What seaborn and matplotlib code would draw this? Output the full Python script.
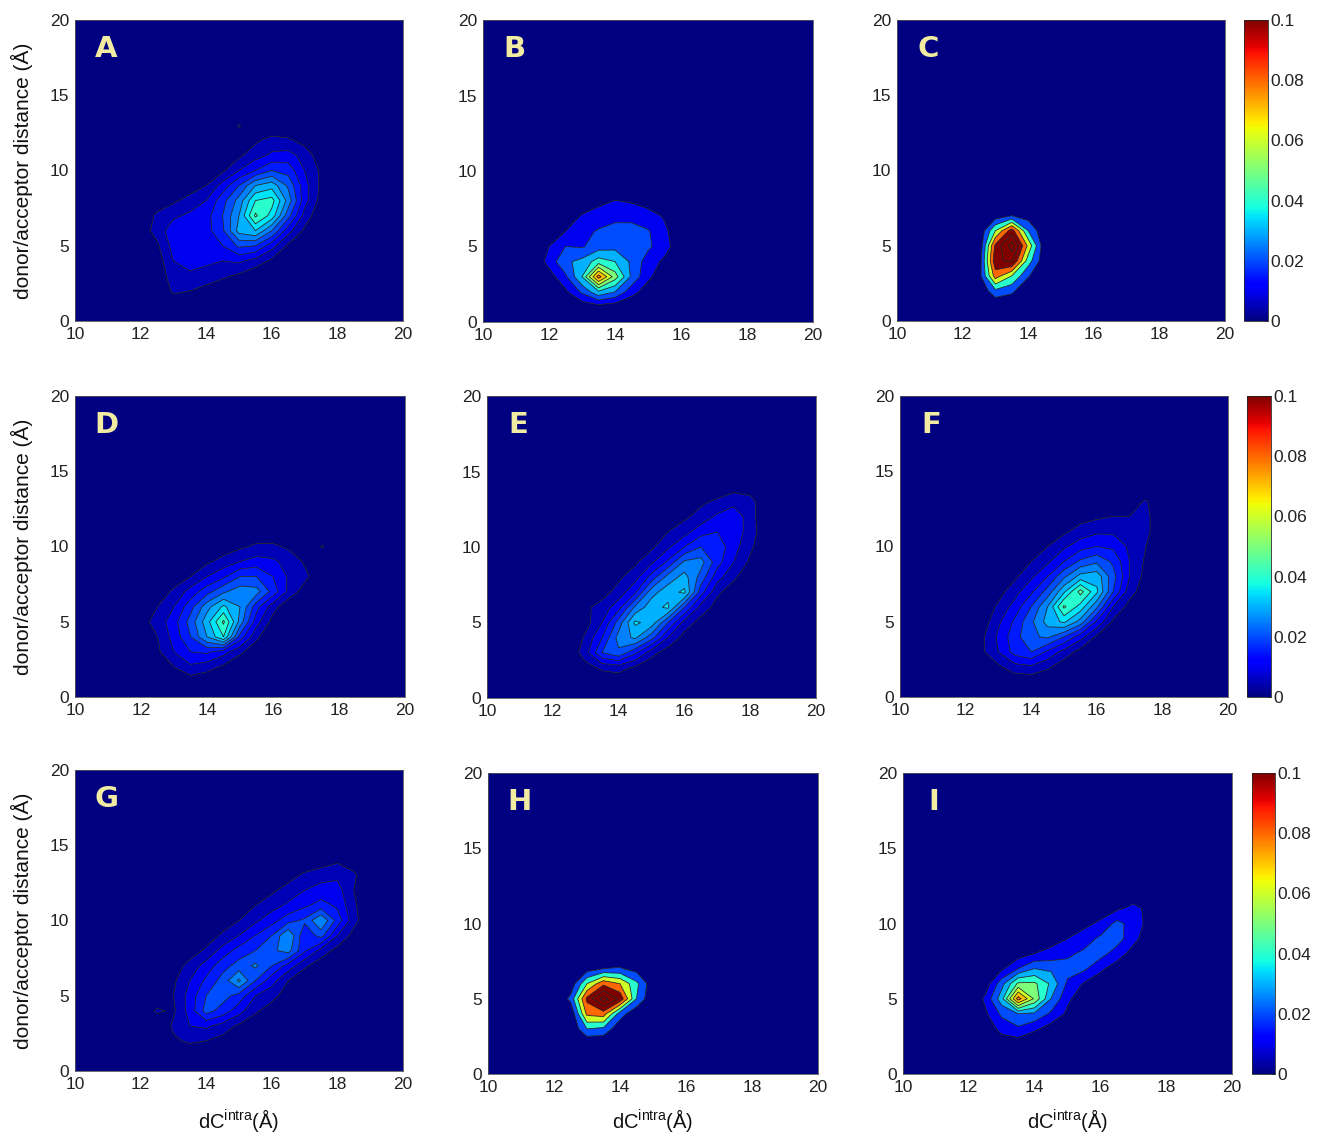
import numpy as np
import matplotlib
matplotlib.use("Agg")
import matplotlib.pyplot as plt
from matplotlib.colors import Normalize
from matplotlib.cm import ScalarMappable
import seaborn as sns

sns.set_theme(style="white")
plt.rcParams['font.family'] = ['Liberation Sans', 'DejaVu Sans']
plt.rcParams['mathtext.fontset'] = 'custom'
plt.rcParams['mathtext.rm'] = 'Liberation Sans'
plt.rcParams['mathtext.it'] = 'Liberation Sans:italic'

# ---------------- data (probability density, in units of 0.001) ----------------
# grid columns: dC_intra (Å); rows: donor/acceptor distance (Å), listed from y=1 up to y=14
X_COLS = [12.0, 12.5, 13.0, 13.5, 14.0, 14.5, 15.0, 15.5, 16.0, 16.5, 17.0, 17.5, 18.0, 18.5, 19.0]
Y_ROWS = [1, 2, 3, 4, 5, 6, 7, 8, 9, 10, 11, 12, 13, 14]

A_DENS = [
    [0, 0, 1, 1, 0, 0, 0, 0, 0, 0, 0, 0, 0, 0, 0],
    [0, 0, 6, 5, 3, 1, 0, 0, 0, 0, 0, 0, 0, 0, 0],
    [0, 1, 8, 9, 8, 6, 4, 1, 0, 0, 0, 0, 0, 0, 0],
    [0, 2, 10, 12, 11, 10, 11, 8, 4, 1, 0, 0, 0, 0, 0],
    [0, 4, 12, 13, 12, 15, 21, 20, 12, 4, 0, 0, 0, 0, 0],
    [2, 7, 13, 14, 13, 19, 32, 35, 25, 12, 4, 0, 0, 0, 0],
    [1, 6, 9, 11, 13, 20, 30, 46, 38, 22, 8, 1, 0, 0, 0],
    [0, 2, 4, 7, 10, 18, 27, 40, 42, 28, 12, 3, 0, 0, 0],
    [0, 0, 1, 2, 5, 12, 20, 30, 33, 24, 12, 4, 0, 0, 0],
    [0, 0, 0, 1, 2, 4, 10, 15, 20, 18, 10, 4, 0, 0, 0],
    [0, 0, 0, 0, 1, 3, 4, 8, 11, 12, 8, 2, 0, 0, 0],
    [0, 0, 0, 0, 0, 1, 2, 4, 7, 6, 3, 0, 0, 0, 0],
    [0, 0, 0, 0, 0, 0, 5.5, 1, 0, 0, 0, 0, 0, 0, 0],
    [0, 0, 0, 0, 0, 0, 0, 0, 0, 0, 0, 0, 0, 0, 0],
]
B_DENS = [
    [0, 0, 3, 5, 3, 1, 0, 0, 0, 0, 0, 0, 0, 0, 0],
    [2, 8, 22, 38, 30, 14, 5, 1, 0, 0, 0, 0, 0, 0, 0],
    [5, 18, 40, 85, 55, 28, 12, 4, 0, 0, 0, 0, 0, 0, 0],
    [14, 28, 33, 45, 40, 28, 15, 8, 2, 0, 0, 0, 0, 0, 0],
    [10, 20, 19, 25, 27, 26, 22, 14, 3, 0, 0, 0, 0, 0, 0],
    [4, 10, 17, 21, 24, 24, 21, 12, 3, 0, 0, 0, 0, 0, 0],
    [0, 4, 11, 15, 17, 17, 14, 9, 2, 0, 0, 0, 0, 0, 0],
    [0, 0, 3, 7, 10.5, 9, 6, 3, 0, 0, 0, 0, 0, 0, 0],
    [0, 0, 0, 1, 2, 2, 1, 0, 0, 0, 0, 0, 0, 0, 0],
    [0, 0, 0, 0, 0, 0, 0, 0, 0, 0, 0, 0, 0, 0, 0],
    [0, 0, 0, 0, 0, 0, 0, 0, 0, 0, 0, 0, 0, 0, 0],
    [0, 0, 0, 0, 0, 0, 0, 0, 0, 0, 0, 0, 0, 0, 0],
    [0, 0, 0, 0, 0, 0, 0, 0, 0, 0, 0, 0, 0, 0, 0],
    [0, 0, 0, 0, 0, 0, 0, 0, 0, 0, 0, 0, 0, 0, 0],
]
C_DENS = [
    [0, 0, 0, 0, 0, 0, 0, 0, 0, 0, 0, 0, 0, 0, 0],
    [0, 0, 35, 25, 0, 0, 0, 0, 0, 0, 0, 0, 0, 0, 0],
    [0, 10, 90, 60, 22, 0, 0, 0, 0, 0, 0, 0, 0, 0, 0],
    [0, 5, 115, 125, 50, 5, 0, 0, 0, 0, 0, 0, 0, 0, 0],
    [0, 0, 105, 150, 75, 5, 0, 0, 0, 0, 0, 0, 0, 0, 0],
    [0, 0, 60, 110, 40, 2, 0, 0, 0, 0, 0, 0, 0, 0, 0],
    [0, 0, 8, 20, 10, 0, 0, 0, 0, 0, 0, 0, 0, 0, 0],
    [0, 0, 0, 0, 0, 0, 0, 0, 0, 0, 0, 0, 0, 0, 0],
    [0, 0, 0, 0, 0, 0, 0, 0, 0, 0, 0, 0, 0, 0, 0],
    [0, 0, 0, 0, 0, 0, 0, 0, 0, 0, 0, 0, 0, 0, 0],
    [0, 0, 0, 0, 0, 0, 0, 0, 0, 0, 0, 0, 0, 0, 0],
    [0, 0, 0, 0, 0, 0, 0, 0, 0, 0, 0, 0, 0, 0, 0],
    [0, 0, 0, 0, 0, 0, 0, 0, 0, 0, 0, 0, 0, 0, 0],
    [0, 0, 0, 0, 0, 0, 0, 0, 0, 0, 0, 0, 0, 0, 0],
]
D_DENS = [
    [0, 0, 0, 2, 1, 0, 0, 0, 0, 0, 0, 0, 0, 0, 0],
    [0, 2, 5, 9, 7, 4, 1, 0, 0, 0, 0, 0, 0, 0, 0],
    [0, 4, 10, 15, 16, 12, 6, 2, 0, 0, 0, 0, 0, 0, 0],
    [1, 5, 12, 20, 30, 40, 18, 6, 1, 0, 0, 0, 0, 0, 0],
    [3, 7, 13, 22, 33, 46, 28, 12, 3, 0, 0, 0, 0, 0, 0],
    [1, 5, 10, 18, 28, 36, 30, 17, 7, 1, 0, 0, 0, 0, 0],
    [0, 2, 6, 12, 18, 24, 28, 27, 18, 8, 2, 0, 0, 0, 0],
    [0, 0, 2, 5, 10, 14, 20, 20, 15, 9, 6, 1, 0, 0, 0],
    [0, 0, 0, 2, 4, 7, 10, 12, 11, 8, 4, 0, 0, 0, 0],
    [0, 0, 0, 0, 1, 2, 4, 6, 6, 4, 1, 5.5, 0, 0, 0],
    [0, 0, 0, 0, 0, 0, 0, 1, 1, 1, 0, 0, 0, 0, 0],
    [0, 0, 0, 0, 0, 0, 0, 0, 0, 0, 0, 0, 0, 0, 0],
    [0, 0, 0, 0, 0, 0, 0, 0, 0, 0, 0, 0, 0, 0, 0],
    [0, 0, 0, 0, 0, 0, 0, 0, 0, 0, 0, 0, 0, 0, 0],
]
E_DENS = [
    [0, 0, 0, 1, 1, 0, 0, 0, 0, 0, 0, 0, 0, 0, 0],
    [0, 0, 3, 6, 7, 4, 1, 0, 0, 0, 0, 0, 0, 0, 0],
    [0, 1, 8, 20, 24, 16, 7, 2, 0, 0, 0, 0, 0, 0, 0],
    [0, 0, 6, 15, 27, 31, 22, 10, 3, 1, 0, 0, 0, 0, 0],
    [0, 0, 3, 10, 22, 36, 33, 20, 8, 3, 1, 0, 0, 0, 0],
    [0, 0, 4, 7, 13, 26, 33, 36, 20, 8, 3, 0, 0, 0, 0],
    [0, 0, 0, 3, 7, 14, 28, 33, 36, 17, 6, 2, 0, 0, 0],
    [0, 0, 0, 0, 4, 8, 17, 27, 32, 23, 12, 6, 1, 0, 0],
    [0, 0, 0, 0, 1, 4, 9, 16, 26, 27, 17, 10, 4, 0, 0],
    [0, 0, 0, 0, 0, 1, 4, 9, 15, 20, 18, 12, 6, 1, 0],
    [0, 0, 0, 0, 0, 0, 2, 5, 8, 13, 15, 14, 7, 2, 0],
    [0, 0, 0, 0, 0, 0, 0, 2, 4, 7, 11, 14, 7, 1, 0],
    [0, 0, 0, 0, 0, 0, 0, 0, 1, 4, 6, 8, 7, 1, 0],
    [0, 0, 0, 0, 0, 0, 0, 0, 0, 0, 1, 3, 2, 0, 0],
]
F_DENS = [
    [0, 0, 0, 1, 1, 0, 0, 0, 0, 0, 0, 0, 0, 0, 0],
    [0, 1, 4, 8, 9, 6, 2, 0, 0, 0, 0, 0, 0, 0, 0],
    [0, 4, 10, 17, 20, 14, 8, 3, 0, 0, 0, 0, 0, 0, 0],
    [0, 4, 11, 18, 24, 26, 20, 12, 4, 1, 0, 0, 0, 0, 0],
    [0, 2, 9, 16, 24, 32, 36, 28, 14, 4, 1, 0, 0, 0, 0],
    [0, 1, 6, 12, 20, 30, 46, 38, 26, 10, 3, 0, 0, 0, 0],
    [0, 0, 3, 8, 14, 22, 34, 47, 36, 20, 7, 2, 0, 0, 0],
    [0, 0, 1, 4, 9, 15, 24, 32, 33, 22, 10, 3, 0, 0, 0],
    [0, 0, 0, 2, 5, 9, 15, 21, 24, 19, 10, 4, 0, 0, 0],
    [0, 0, 0, 0, 2, 5, 9, 13, 15, 14, 9, 5, 1, 0, 0],
    [0, 0, 0, 0, 0, 2, 4, 7, 9, 9, 7, 6, 2, 0, 0],
    [0, 0, 0, 0, 0, 0, 1, 3, 4, 5, 5, 6, 2, 0, 0],
    [0, 0, 0, 0, 0, 0, 0, 0, 1, 1, 3, 5.5, 1, 0, 0],
    [0, 0, 0, 0, 0, 0, 0, 0, 0, 0, 0, 0, 0, 0, 0],
]
G_DENS = [
    [0, 0, 0, 0, 0, 0, 0, 0, 0, 0, 0, 0, 0, 0, 0],
    [0, 0, 4, 6, 5, 3, 1, 0, 0, 0, 0, 0, 0, 0, 0],
    [0, 0, 6, 10, 11, 8, 4, 1, 0, 0, 0, 0, 0, 0, 0],
    [0, 6, 4, 12, 22, 18, 12, 6, 2, 0, 0, 0, 0, 0, 0],
    [0, 0, 5, 12, 20, 22, 18, 10, 7, 2, 0, 0, 0, 0, 0],
    [0, 0, 4, 10, 16, 22, 31, 20, 12, 5, 1, 0, 0, 0, 0],
    [0, 0, 2, 7, 12, 18, 22, 26, 20, 13, 6, 2, 0, 0, 0],
    [0, 0, 0, 2, 6, 12, 17, 20, 24, 27, 16, 8, 3, 0, 0],
    [0, 0, 0, 0, 2, 6, 10, 15, 20, 30, 16, 22, 10, 3, 0],
    [0, 0, 0, 0, 0, 2, 5, 9, 13, 18, 21, 30, 18, 7, 0],
    [0, 0, 0, 0, 0, 0, 2, 5, 8, 11, 14, 17, 14, 6, 0],
    [0, 0, 0, 0, 0, 0, 0, 2, 4, 7, 10, 12, 12, 5, 0],
    [0, 0, 0, 0, 0, 0, 0, 0, 1, 3, 6, 8, 9, 6, 0],
    [0, 0, 0, 0, 0, 0, 0, 0, 0, 0, 1, 2, 4, 2, 0],
]
H_DENS = [
    [0, 0, 0, 0, 0, 0, 0, 0, 0, 0, 0, 0, 0, 0, 0],
    [0, 0, 0, 0, 0, 0, 0, 0, 0, 0, 0, 0, 0, 0, 0],
    [0, 0, 40, 35, 5, 0, 0, 0, 0, 0, 0, 0, 0, 0, 0],
    [0, 0, 85, 90, 30, 3, 0, 0, 0, 0, 0, 0, 0, 0, 0],
    [0, 25, 105, 150, 115, 40, 0, 0, 0, 0, 0, 0, 0, 0, 0],
    [0, 5, 60, 95, 80, 45, 5, 0, 0, 0, 0, 0, 0, 0, 0],
    [0, 0, 10, 20, 22, 12, 0, 0, 0, 0, 0, 0, 0, 0, 0],
    [0, 0, 0, 0, 0, 0, 0, 0, 0, 0, 0, 0, 0, 0, 0],
    [0, 0, 0, 0, 0, 0, 0, 0, 0, 0, 0, 0, 0, 0, 0],
    [0, 0, 0, 0, 0, 0, 0, 0, 0, 0, 0, 0, 0, 0, 0],
    [0, 0, 0, 0, 0, 0, 0, 0, 0, 0, 0, 0, 0, 0, 0],
    [0, 0, 0, 0, 0, 0, 0, 0, 0, 0, 0, 0, 0, 0, 0],
    [0, 0, 0, 0, 0, 0, 0, 0, 0, 0, 0, 0, 0, 0, 0],
    [0, 0, 0, 0, 0, 0, 0, 0, 0, 0, 0, 0, 0, 0, 0],
]
I_DENS = [
    [0, 0, 0, 0, 0, 0, 0, 0, 0, 0, 0, 0, 0, 0, 0],
    [0, 0, 3, 4, 0, 0, 0, 0, 0, 0, 0, 0, 0, 0, 0],
    [0, 2, 14, 18, 12, 5, 1, 0, 0, 0, 0, 0, 0, 0, 0],
    [0, 8, 22, 30, 28, 18, 8, 2, 0, 0, 0, 0, 0, 0, 0],
    [0, 12, 36, 85, 58, 30, 12, 4, 1, 0, 0, 0, 0, 0, 0],
    [0, 4, 26, 52, 52, 38, 18, 9, 4, 1, 0, 0, 0, 0, 0],
    [0, 0, 8, 20, 30, 28, 24, 22, 12, 5, 1, 0, 0, 0, 0],
    [0, 0, 0, 5, 10, 13, 18, 22, 24, 15, 6, 1, 0, 0, 0],
    [0, 0, 0, 0, 2, 6, 10, 15, 22, 25, 13, 4, 0, 0, 0],
    [0, 0, 0, 0, 0, 1, 3, 7, 12, 23, 16, 6, 0, 0, 0],
    [0, 0, 0, 0, 0, 0, 0, 1, 4, 8, 13, 7, 0, 0, 0],
    [0, 0, 0, 0, 0, 0, 0, 0, 0, 1, 3, 2, 0, 0, 0],
    [0, 0, 0, 0, 0, 0, 0, 0, 0, 0, 0, 0, 0, 0, 0],
    [0, 0, 0, 0, 0, 0, 0, 0, 0, 0, 0, 0, 0, 0, 0],
]

PANEL_LABELS = ["A", "B", "C", "D", "E", "F", "G", "H", "I"]
PANEL_DATA = [A_DENS, B_DENS, C_DENS, D_DENS, E_DENS, F_DENS, G_DENS, H_DENS, I_DENS]
LEVEL_STEPS = [5, 10, 20, 5, 5, 5, 5, 20, 10]   # contour spacing (units of 0.001)

X_TICKS = [10, 12, 14, 16, 18, 20]
Y_TICKS = [0, 5, 10, 15, 20]
CBAR_TICKS = [0, 0.02, 0.04, 0.06, 0.08, 0.1]
CBAR_TICKLABELS = ["0", "0.02", "0.04", "0.06", "0.08", "0.1"]
Y_LABEL = "donor/acceptor distance (Å)"
X_LABEL = r"dC$^{\mathrm{intra}}$(Å)"

# ---------------- layout (pixel boxes of the reference) ----------------
W, H = 1324, 1132
AX_BOXES = [
    (75, 403, 20, 321), (483, 813, 20, 322), (897, 1225, 20, 321),
    (75, 405, 396, 697), (487, 816, 396, 698), (900, 1228, 396, 697),
    (75, 403, 770, 1071), (488, 818, 773, 1074), (903, 1232, 773, 1074),
]
CB_BOXES = [(1244, 1268, 20, 321), (1247, 1271, 396, 697), (1252, 1275, 773, 1074)]


def rect(b):
    x0, x1, yt, yb = b
    return [x0 / W, 1 - yb / H, (x1 - x0) / W, (yb - yt) / H]


cmap = matplotlib.colormaps["jet"]
VMAX = 0.1
TXT = 12.5

fig = plt.figure(figsize=(W / 100, H / 100), dpi=100)
fig.patch.set_facecolor("white")

xf = np.arange(10.0, 20.001, 0.5)
yf = np.arange(0.0, 20.001, 1.0)
ix0 = int(round((X_COLS[0] - 10.0) / 0.5))
iy0 = int(round(Y_ROWS[0] - 0.0))

for k, (lab, dens, step, box) in enumerate(zip(PANEL_LABELS, PANEL_DATA, LEVEL_STEPS, AX_BOXES)):
    ax = fig.add_axes(rect(box))
    Z = np.zeros((len(yf), len(xf)))
    block = np.array(dens, dtype=float) / 1000.0
    Z[iy0:iy0 + block.shape[0], ix0:ix0 + block.shape[1]] = block
    s = step / 1000.0
    nlev = int(np.ceil(Z.max() / s + 1e-9))
    levels = s * np.arange(0, nlev + 1)
    # MATLAB-like: each band coloured by its lower level
    cols = [cmap(min(l / VMAX, 1.0)) for l in levels[:-1]]
    ax.contourf(xf, yf, Z, levels=levels, colors=cols, antialiased=True)
    ax.contour(xf, yf, Z, levels=levels[1:], colors="k", linewidths=0.55)
    ax.set_xlim(10, 20)
    ax.set_ylim(0, 20)
    ax.set_xticks(X_TICKS)
    ax.set_yticks(Y_TICKS)
    ax.tick_params(direction="in", length=3, width=0.6, labelsize=TXT, colors="#222222",
                   pad=4, top=False, right=False)
    for sp in ax.spines.values():
        sp.set_linewidth(0.6)
        sp.set_color("#555555")
    ax.text(0.095, 0.905, lab, transform=ax.transAxes, ha="center", va="center",
            fontsize=21, fontweight="bold", color="#F2ECA2", family="DejaVu Sans")
    ax.grid(False)
    if k % 3 == 0:
        x0, x1, yt, yb = box
        fig.text(22 / W, 1 - (yt + yb) / 2 / H, Y_LABEL, rotation=90, ha="center",
                 va="center", fontsize=15, color="#111111")
    if k >= 6:
        x0, x1, yt, yb = box
        fig.text((x0 + x1) / 2 / W, 1 - 1120 / H, X_LABEL, ha="center", va="center",
                 fontsize=14.5, color="#111111")

norm = Normalize(vmin=0, vmax=VMAX)
for box in CB_BOXES:
    cax = fig.add_axes(rect(box))
    cb = fig.colorbar(ScalarMappable(norm=norm, cmap=cmap), cax=cax, ticks=CBAR_TICKS)
    cb.ax.set_yticklabels(CBAR_TICKLABELS)
    cb.ax.tick_params(direction="in", length=3, width=0.6, labelsize=TXT, colors="#222222", pad=2)
    cb.outline.set_linewidth(0.6)

fig.savefig("out.png", dpi=100)
